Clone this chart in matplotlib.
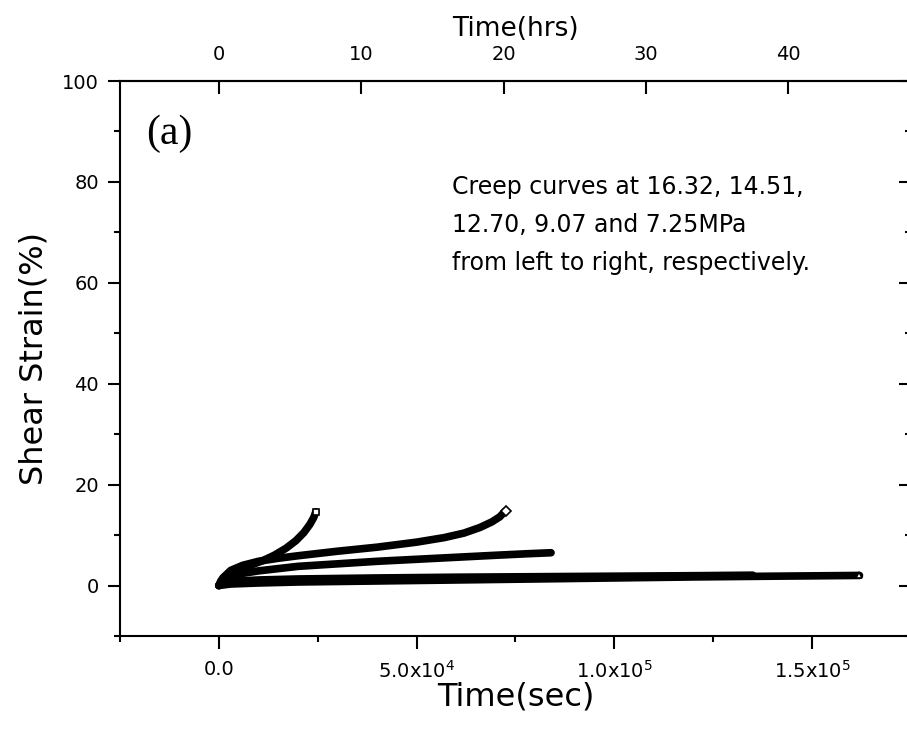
import matplotlib
matplotlib.use('Agg')
import matplotlib.pyplot as plt
from matplotlib.ticker import MultipleLocator, FixedLocator, FixedFormatter

# creep data: time (s) vs shear strain (%)
t_1632 = [0, 500, 1500, 3000, 5000, 8000, 11000, 14000, 17000, 19500, 21500, 23000, 24000, 24500]
e_1632 = [0, 0.9, 1.7, 2.4, 3.1, 4.0, 4.9, 6.0, 7.4, 8.9, 10.5, 12.1, 13.5, 14.6]

t_1451 = [0, 1000, 3000, 6000, 10000, 15000, 20000, 30000, 40000, 50000, 57000, 62000, 66000, 69000, 71000, 72500]
e_1451 = [0, 1.5, 3.0, 4.0, 4.8, 5.4, 5.9, 6.8, 7.6, 8.6, 9.5, 10.4, 11.5, 12.6, 13.6, 14.8]

t_1270 = [0, 1000, 3000, 6000, 10000, 20000, 30000, 40000, 50000, 60000, 70000, 78000, 84000]
e_1270 = [0, 1.0, 1.8, 2.4, 2.9, 3.8, 4.3, 4.8, 5.2, 5.6, 6.0, 6.3, 6.5]

t_907 = [0, 2000, 5000, 10000, 20000, 40000, 60000, 80000, 100000, 120000, 135000]
e_907 = [0, 0.6, 0.9, 1.1, 1.3, 1.5, 1.65, 1.75, 1.85, 1.95, 2.05]

t_725 = [0, 3000, 10000, 20000, 40000, 60000, 80000, 100000, 120000, 140000, 162000]
e_725 = [0, 0.3, 0.5, 0.7, 0.9, 1.1, 1.3, 1.5, 1.7, 1.85, 2.0]

# last-point symbol per curve (None = hidden in the band)
curves = [(t_1632, e_1632, 's'), (t_1451, e_1451, 'D'), (t_1270, e_1270, None),
          (t_907, e_907, None), (t_725, e_725, '^')]

xticks = [0, 5e4, 1e5, 1.5e5]
xticklabels = ['0.0', '5.0x10$^{4}$', '1.0x10$^{5}$', '1.5x10$^{5}$']
hr_ticks = [0, 10, 20, 30, 40]

plt.rcParams['font.family'] = ['DejaVu Sans']
plt.rcParams['mathtext.fontset'] = 'dejavusans'

fig = plt.figure(figsize=(9.07, 7.36), dpi=100)
ax = fig.add_axes([0.1323, 0.1359, 0.872, 0.754])

for t, e, m in curves:
    ax.plot(t, e, color='black', lw=5.5, solid_capstyle='round', solid_joinstyle='round')
    if m:
        ax.plot(t[-1:], e[-1:], marker=m, ms=5, mfc='white', mec='black', mew=1.2, ls='none')

ax.set_xlim(-2.5e4, 1.75e5)
ax.set_ylim(-10, 100)

ax.xaxis.set_major_locator(FixedLocator(xticks))
ax.xaxis.set_major_formatter(FixedFormatter(xticklabels))
ax.xaxis.set_minor_locator(MultipleLocator(2.5e4))
ax.yaxis.set_major_locator(MultipleLocator(20))
ax.yaxis.set_minor_locator(MultipleLocator(10))

ax.spines['right'].set_visible(False)
for s in ['left', 'top', 'bottom']:
    ax.spines[s].set_linewidth(1.5)
ax.tick_params(which='major', direction='out', length=9, width=1.5, labelsize=14)
ax.tick_params(which='minor', direction='out', length=4.5, width=1.5)
ax.tick_params(axis='x', which='major', pad=8)
ax.tick_params(axis='y', which='major', pad=6)

# hours on top
top = ax.secondary_xaxis('top', functions=(lambda s: s / 3600.0, lambda h: h * 3600.0))
top.set_xticks(hr_ticks)
top.tick_params(direction='in', length=9, width=1.5, labelsize=14, pad=12)
top.spines['top'].set_linewidth(1.5)
top.set_xlabel('Time(hrs)', fontsize=19, labelpad=7)

# tick marks only on the right
right = ax.secondary_yaxis('right')
right.yaxis.set_major_locator(MultipleLocator(20))
right.yaxis.set_minor_locator(MultipleLocator(10))
right.tick_params(which='major', direction='in', length=9, width=1.5, labelright=False)
right.tick_params(which='minor', direction='in', length=4.5, width=1.5)
right.spines['right'].set_visible(False)

ax.set_xlabel('Time(sec)', fontsize=23, labelpad=0)
ax.set_ylabel('Shear Strain(%)', fontsize=23, labelpad=9)

ax.text(-1.85e4, 89.5, '(a)', fontsize=30, family='Liberation Serif', va='center', ha='left')
ax.text(5.9e4, 81.3, 'Creep curves at 16.32, 14.51,\n12.70, 9.07 and 7.25MPa\nfrom left to right, respectively.',
        fontsize=17, va='top', ha='left', linespacing=1.72)

fig.savefig('out.png', dpi=100)
